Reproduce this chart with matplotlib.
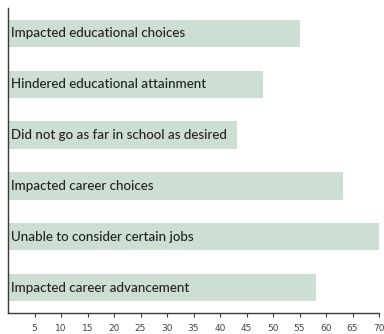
import matplotlib

matplotlib.use("Agg")
import matplotlib.pyplot as plt

# Impactos relatados (percentual de respondentes)
categorias = [
    "Impacted educational choices",
    "Hindered educational attainment",
    "Did not go as far in school as desired",
    "Impacted career choices",
    "Unable to consider certain jobs",
    "Impacted career advancement",
]
valores = [55, 48, 43, 63, 70, 58]
ticks_x = [5, 10, 15, 20, 25, 30, 35, 40, 45, 50, 55, 60, 65, 70]

COR_BARRA = "#cddfd3"
COR_TEXTO = "#222222"
COR_EIXO = "#3a3a3a"

fig = plt.figure(figsize=(3.84, 3.34), dpi=100)
ax = fig.add_axes([8 / 384, 1 - 313 / 334, 371 / 384, 305 / 334])

pos = list(range(len(categorias)))
ax.barh(pos, valores, height=0.54, color=COR_BARRA, left=0.15)
for p, nome in zip(pos, categorias):
    ax.text(0.55, p, nome, va="center", ha="left", fontsize=9.6,
            color=COR_TEXTO, family="Lato", fontweight="medium")

ax.set_xlim(0, 70)
ax.set_ylim(len(categorias) - 0.5, -0.5)
ax.set_yticks([])
ax.set_xticks(ticks_x)
ax.set_xticklabels([str(t) for t in ticks_x])
ax.tick_params(axis="x", length=3, width=0.8, color=COR_EIXO,
               labelsize=6.5, labelcolor="#444444", pad=5)

for lado in ("top", "right"):
    ax.spines[lado].set_visible(False)
for lado in ("left", "bottom"):
    ax.spines[lado].set_color(COR_EIXO)
    ax.spines[lado].set_linewidth(1.0)

fig.savefig("out.png", dpi=100)
